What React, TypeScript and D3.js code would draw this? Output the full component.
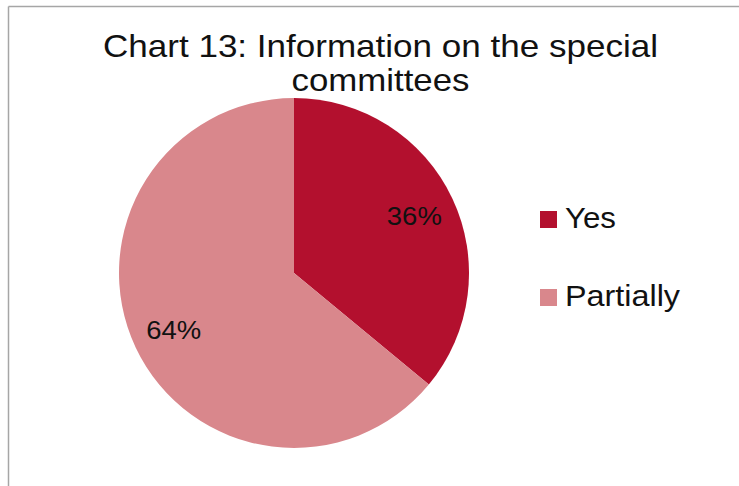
import React from "react";
import * as d3 from "d3";

const categories = ["Yes", "Partially"];
const values = [36, 64];
const colors = ["#b3102e", "#d9878c"];
const titleLines = ["Chart 13: Information on the special", "committees"];

const W = 739;
const H = 486;

export default function App() {
  const cx = 294;
  const cy = 273;
  const r = 175;
  const pie = d3.pie<number>().sort(null).value((d) => d);
  const arcs = pie(values);
  const arc = d3.arc<d3.PieArcDatum<number>>().innerRadius(0).outerRadius(r);
  const labelArc = d3.arc<d3.PieArcDatum<number>>().innerRadius(r * 0.76).outerRadius(r * 0.76);
  const total = d3.sum(values);
  const font = "'Liberation Sans', Arial, sans-serif";
  const titleWidths = [555, 178];
  const legendWidths = [51, 115];
  return (
    <svg
      width={W}
      height={H}
      style={{ position: "absolute", left: 0, top: 0 }}
      fontFamily={font}
    >
      <rect x={0} y={0} width={W} height={H} fill="#fff" />
      <line x1={8.5} y1={6.5} x2={W} y2={6.5} stroke="#a6a6a6" strokeWidth={1.5} />
      <line x1={8.5} y1={6.5} x2={8.5} y2={H} stroke="#a6a6a6" strokeWidth={1.5} />
      {titleLines.map((t, i) => (
        <text
          key={i}
          x={380.5}
          y={57 + i * 34}
          textAnchor="middle"
          fontSize={32}
          fill="#111"
          textLength={titleWidths[i]}
          lengthAdjust="spacingAndGlyphs"
        >
          {t}
        </text>
      ))}
      <g transform={`translate(${cx},${cy})`}>
        {arcs.map((a, i) => (
          <path key={i} d={arc(a) || ""} fill={colors[i]} />
        ))}
        {arcs.map((a, i) => {
          const [x, y] = labelArc.centroid(a);
          return (
            <text
              key={i}
              x={x}
              y={y + 9}
              textAnchor="middle"
              fontSize={26}
              fill="#111"
              textLength={55}
              lengthAdjust="spacingAndGlyphs"
            >
              {Math.round((a.value / total) * 100)}%
            </text>
          );
        })}
      </g>
      {categories.map((c, i) => (
        <g key={c} transform={`translate(540,${211 + i * 78})`}>
          <rect x={0} y={0} width={17} height={17} fill={colors[i]} />
          <text
            x={25}
            y={17}
            fontSize={30}
            fill="#111"
            textLength={legendWidths[i]}
            lengthAdjust="spacingAndGlyphs"
          >
            {c}
          </text>
        </g>
      ))}
    </svg>
  );
}
